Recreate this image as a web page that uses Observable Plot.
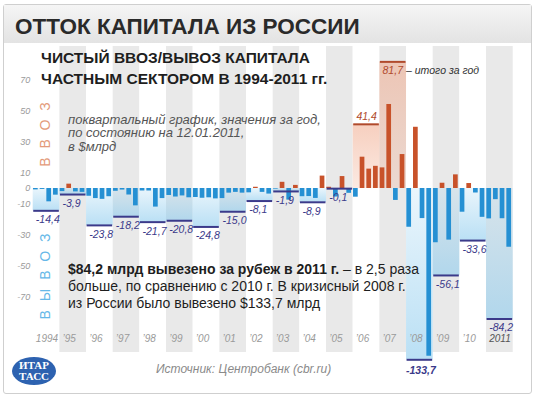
<!DOCTYPE html>
<html><head><meta charset="utf-8">
<script src="https://cdn.jsdelivr.net/npm/d3@7"></script>
<script src="https://cdn.jsdelivr.net/npm/@observablehq/plot@0.6"></script>
<style>
body{margin:0;width:540px;height:398px;position:relative;overflow:hidden;background:#fff;font-family:"Liberation Sans",Arial,sans-serif;}
.t{position:absolute;white-space:nowrap;line-height:1;}
</style></head><body>
<div style="position:absolute;left:3px;top:4px;width:527px;height:388px;border:1px solid #cfcfcf;border-radius:3px;background:#fff"></div>
<div style="position:absolute;left:4px;top:5px;width:527px;height:38px;background:linear-gradient(#f5f5f5,#e3e3e3)"></div>
<div id="chart" style="position:absolute;left:0;top:0"></div>
<script>
// ---- data (US$ bn) ----
const years = [1994,1995,1996,1997,1998,1999,2000,2001,2002,2003,2004,2005,2006,2007,2008,2009,2010,2011];
const yearLabels = ["1994","’95","’96","’97","’98","’99","’00","’01","’02","’03","’04","’05","’06","’07","’08","’09","’10","2011"];
const q1 = [-0.9,-2.0,-5.0,-1.8,-1.6,-4.5,-5.8,-6.5,-2.8,-0.4,-5.3,0.8,-5.6,13.3,-25.0,-35.0,-15.3,-19.6];
const q2 = [-0.6,2.8,-6.5,-1.0,-1.6,-5.5,-6.3,-3.0,0.8,4.0,-5.2,-5.5,20.2,54.2,39.5,3.4,3.2,-7.2];
const q3 = [-8.6,-2.2,-7.0,-4.2,-12.0,-4.8,-6.0,-2.5,-2.5,-7.5,-6.4,7.7,12.5,-7.7,-19.4,-33.3,-2.9,-19.5];
const q4 = [-4.3,-2.5,-5.3,-11.2,-6.5,-6.0,-6.7,-3.0,-3.6,2.0,8.0,-3.1,14.3,21.9,-128.8,8.8,-18.6,-37.9];
const totals = [-14.4,-3.9,-23.8,-18.2,-21.7,-20.8,-24.8,-15.0,-8.1,-1.9,-8.9,-0.1,41.4,81.7,-133.7,-56.1,-33.6,-84.2];
const yTicks = [70,50,30,10,0,-10,-30,-50,-70];

const quarters = years.flatMap((y,i)=>[q1,q2,q3,q4].map((arr,q)=>({year:y,q,value:arr[i]})));
const annual = years.map((y,i)=>({year:y,total:totals[i],label:yearLabels[i]}));
const fmt = v => v.toFixed(1).replace(".", ",");
const navy = "#3b3a8a", brick = "#b04a2c";
const font = "Liberation Sans, Arial, sans-serif";

const chart = Plot.plot({
  width: 540, height: 398,
  marginLeft: 32.7, marginRight: 27.3, marginTop: 46, marginBottom: 46,
  style: {background: "transparent", overflow: "visible", fontFamily: font},
  x: {type: "linear", domain: [1994, 2012], axis: null},
  y: {type: "linear", domain: [-133.7, -90, 85], range: [359.3, 327.5, 56.25], axis: null},
  color: {type: "identity"},
  marks: [
    Plot.rect(annual, {x1: "year", x2: d => d.year + 1, fill: d => (d.year - 1994) % 2 ? "#e9e9e9" : "#ffffff"}),
    Plot.rect(annual.filter(d => d.total < 0), {x1: "year", x2: d => d.year + 1, y1: 0, y2: "total", fill: "url(#gNeg)"}),
    Plot.rect(annual.filter(d => d.total > 0), {x1: "year", x2: d => d.year + 1, y1: 0, y2: "total", fill: "url(#gPos)"}),
    Plot.rect(quarters.filter(d => d.value < 0), {x1: d => d.year + d.q/4 + 0.012, x2: d => d.year + d.q/4 + 0.188, y1: 0, y2: "value", fill: "#2590d3"}),
    Plot.rect(quarters.filter(d => d.value >= 0), {x1: d => d.year + d.q/4 + 0.012, x2: d => d.year + d.q/4 + 0.188, y1: 0, y2: "value", fill: "#c8522a"}),
    Plot.ruleY(annual.filter(d => d.total < 0), {x1: d => d.year + 0.02, x2: d => d.year + 0.98, y: "total", stroke: navy, strokeWidth: 2}),
    Plot.ruleY(annual.filter(d => d.total > 0), {x1: d => d.year + 0.02, x2: d => d.year + 0.98, y: "total", stroke: brick, strokeWidth: 2}),
    Plot.text(annual.filter(d => d.total < 0 && d.total > -100), {x: d => d.year + 0.1, y: "total", text: d => fmt(d.total), textAnchor: "start", dy: 9, fill: navy, fontStyle: "italic", fontSize: 10.5}),
    Plot.text(annual.filter(d => d.total < -100), {x: d => d.year - 0.02, y: "total", text: d => fmt(d.total), textAnchor: "start", dy: 11, fill: navy, fontStyle: "italic", fontWeight: "bold", fontSize: 10.5}),
    Plot.text(annual.filter(d => d.total > 0 && d.total < 60), {x: d => d.year + 0.12, y: "total", text: d => fmt(d.total), textAnchor: "start", dy: -8, fill: brick, fontStyle: "italic", fontSize: 10.5}),
    Plot.text(annual.filter(d => d.total > 60), {x: d => d.year + 0.1, y: "total", text: d => fmt(d.total), textAnchor: "start", dy: 9, fill: brick, fontStyle: "italic", fontSize: 10.5}),
    Plot.text(annual, {x: d => d.year + 0.1, text: "label", frameAnchor: "bottom", dy: -11, textAnchor: "start", fill: d => d.year === 2011 ? "#555555" : "#9a9a9a", fontStyle: "italic", fontSize: 10}),
    Plot.text(yTicks, {y: d => d, text: d => String(d), frameAnchor: "left", dx: -3, textAnchor: "end", fill: "#9a9a9a", fontStyle: "italic", fontSize: 9})
  ]
});
d3.select(chart).insert("defs", ":first-child").html(
  '<linearGradient id="gNeg" x1="0" y1="0" x2="0" y2="1"><stop offset="0" stop-color="#8ccbee" stop-opacity="0.18"/><stop offset="1" stop-color="#8ccbee" stop-opacity="0.6"/></linearGradient>' +
  '<linearGradient id="gPos" x1="0" y1="0" x2="0" y2="1"><stop offset="0" stop-color="#f0a88a" stop-opacity="0.55"/><stop offset="1" stop-color="#f0a88a" stop-opacity="0.25"/></linearGradient>');
document.getElementById("chart").appendChild(chart);

function addText(html, x, baseline, fs, style) {
  const d = document.createElement("div");
  d.className = "t";
  d.style.left = x + "px";
  d.style.top = (baseline - 0.8465 * fs) + "px";
  d.style.fontSize = fs + "px";
  Object.assign(d.style, style || {});
  d.innerHTML = html;
  document.body.appendChild(d);
}
function addVertical(txt, cx, cy, fs, color) {
  const d = document.createElement("div");
  d.className = "t";
  Object.assign(d.style, {left: cx + "px", top: cy + "px", fontSize: fs + "px", color, letterSpacing: "9px",
    transform: "translate(-50%,-50%) rotate(-90deg)"});
  d.textContent = txt;
  document.body.appendChild(d);
}
addText("ОТТОК КАПИТАЛА ИЗ РОССИИ", 15, 35, 22.5, {fontWeight: "bold", color: "#2a2a2a"});
addText("ЧИСТЫЙ ВВОЗ/ВЫВОЗ КАПИТАЛА", 41, 63, 15.5, {fontWeight: "bold", color: "#1e1e1e"});
addText("ЧАСТНЫМ СЕКТОРОМ В 1994-2011 гг.", 41, 84, 15.5, {fontWeight: "bold", color: "#1e1e1e"});
addText("поквартальный график, значения за год,", 68, 124, 13, {fontStyle: "italic", color: "#555"});
addText("по состоянию на 12.01.2011,", 68, 137.5, 13, {fontStyle: "italic", color: "#555"});
addText("в $млрд", 68, 151, 13, {fontStyle: "italic", color: "#555"});
addText("– итого за год", 406, 73.5, 10.5, {fontStyle: "italic", color: "#333"});
addText("<b>$84,2 млрд вывезено за рубеж в 2011 г.</b> – в 2,5 раза", 68, 274, 14, {color: "#1e1e1e"});
addText("больше, по сравнению с 2010 г. В кризисный 2008 г.", 68, 291, 14, {color: "#1e1e1e"});
addText("из России было вывезено $133,7 млрд", 68, 308, 14, {color: "#1e1e1e"});
addText("Источник: Центробанк (cbr.ru)", 156, 373, 12, {fontStyle: "italic", color: "#8a8a8a"});
addVertical("ВВОЗ", 45, 130, 14, "#e39a7a");
addVertical("ВЫВОЗ", 45, 272, 14, "#66b8e8");
const logo = document.createElement("div");
logo.innerHTML = '<svg width="48" height="32" style="position:absolute;left:10px;top:355px"><ellipse cx="24" cy="16" rx="22" ry="14" fill="#2d62b0"/><text x="24" y="14" text-anchor="middle" font-family="Liberation Serif,serif" font-weight="bold" font-size="11" fill="#fff">ИТАР</text><text x="24" y="25" text-anchor="middle" font-family="Liberation Serif,serif" font-weight="bold" font-size="11" fill="#fff">ТАСС</text></svg>';
document.body.appendChild(logo);
</script>
</body></html>
